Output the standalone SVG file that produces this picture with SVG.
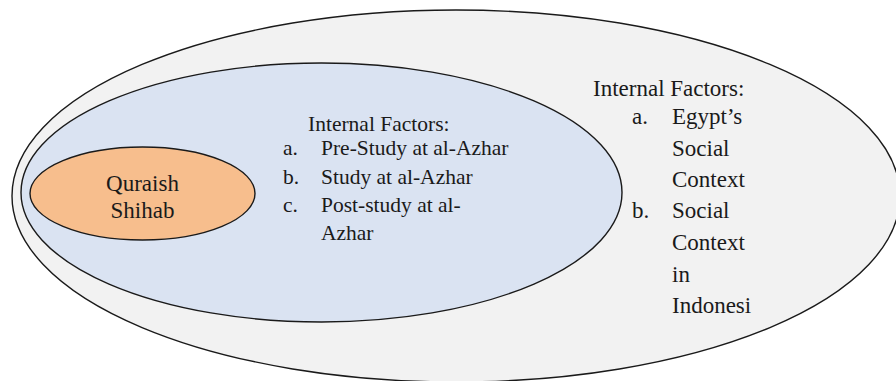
<svg xmlns="http://www.w3.org/2000/svg" width="896" height="381" viewBox="0 0 896 381">
<style>
.e{stroke:#1a1a1a;stroke-width:1.4}
.t{font-family:"Liberation Serif","Times New Roman",serif;fill:#1a1a1a}
.m{font-size:21.5px}
.r{font-size:23px}
</style>
<rect width="896" height="381" fill="#ffffff"/>
<g id="outer">
<ellipse class="e" cx="456" cy="196" rx="444" ry="186" fill="#f2f2f2"/>
<text class="t r" x="593" y="96">Internal Factors:</text>
<text class="t r" x="632" y="124">a.</text>
<text class="t r" x="672" y="124">Egypt’s</text>
<text class="t r" x="672" y="156">Social</text>
<text class="t r" x="672" y="187">Context</text>
<text class="t r" x="632" y="218">b.</text>
<text class="t r" x="672" y="218">Social</text>
<text class="t r" x="672" y="250">Context</text>
<text class="t r" x="672" y="282">in</text>
<text class="t r" x="672" y="313">Indonesi</text>
</g>
<g id="middle">
<ellipse class="e" cx="321.5" cy="192.5" rx="300.5" ry="129.5" fill="#dae3f2"/>
<text class="t m" x="308" y="131">Internal Factors:</text>
<text class="t m" x="283" y="155">a.</text>
<text class="t m" x="321" y="155">Pre-Study at al-Azhar</text>
<text class="t m" x="283" y="184">b.</text>
<text class="t m" x="321" y="184">Study at al-Azhar</text>
<text class="t m" x="283" y="212">c.</text>
<text class="t m" x="321" y="212">Post-study at al-</text>
<text class="t m" x="321" y="240">Azhar</text>
</g>
<g id="inner">
<ellipse class="e" cx="142.5" cy="193.5" rx="112.5" ry="46.5" fill="#f7be8d"/>
<text class="t r" x="142.5" y="191" text-anchor="middle">Quraish</text>
<text class="t r" x="142.5" y="218" text-anchor="middle">Shihab</text>
</g>
<g id="connectors"/>
</svg>
